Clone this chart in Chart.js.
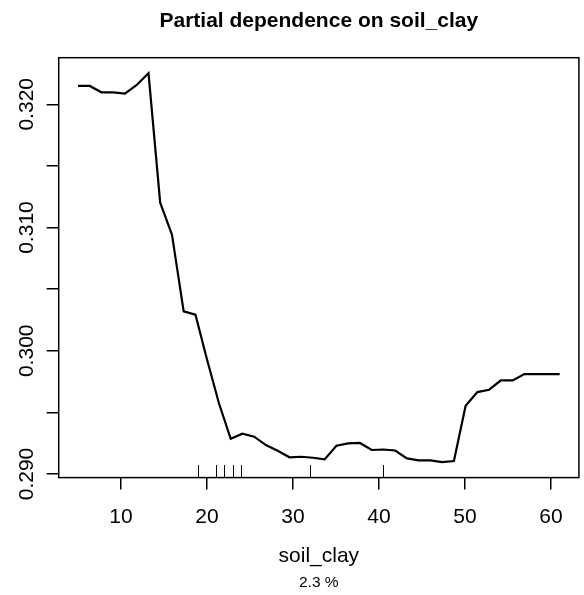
<!DOCTYPE html>
<html>
<head>
<meta charset="utf-8">
<script src="https://cdn.jsdelivr.net/npm/chart.js@4/dist/chart.umd.min.js"></script>
<style>
  html, body { margin: 0; padding: 0; background: #fff; }
  #wrap { width: 584px; height: 595px; position: relative; }
</style>
</head>
<body>
<div id="wrap"><canvas id="myChart"></canvas></div>
<script>
// grid of soil_clay values and the partial dependence at each
const soilClay = [5.00, 6.37, 7.73, 9.10, 10.46, 11.83, 13.20, 14.56, 15.93, 17.29,
    18.66, 20.02, 21.39, 22.76, 24.12, 25.49, 26.85, 28.22, 29.59, 30.95,
    32.32, 33.68, 35.05, 36.41, 37.78, 39.15, 40.51, 41.88, 43.24, 44.61,
    45.98, 47.34, 48.71, 50.07, 51.44, 52.80, 54.17, 55.54, 56.90, 58.27,
    59.63, 61.00]
const partialDep = [0.32149, 0.32149, 0.32097, 0.32097, 0.32086, 0.32157, 0.32252, 0.31202, 0.30942, 0.30320,
    0.30293, 0.29925, 0.29574, 0.29286, 0.29327, 0.29303, 0.29235, 0.29189, 0.29136, 0.29140,
    0.29132, 0.29119, 0.29230, 0.29249, 0.29252, 0.29195, 0.29199, 0.29191, 0.29127, 0.29111,
    0.29111, 0.29097, 0.29105, 0.29554, 0.29665, 0.29684, 0.29760, 0.29760, 0.29811, 0.29811,
    0.29811, 0.29811]
// deciles of the data (rug)
const rugValues = [19, 21, 22, 23, 24, 32, 40.5]

const xTicks = [10, 20, 30, 40, 50, 60]
const yTicks = [0.290, 0.295, 0.300, 0.305, 0.310, 0.315, 0.320]
const yTickLabels = ['0.290', '', '0.300', '', '0.310', '', '0.320']
const xRange = [2.76, 63.24]
const yRange = [0.28971, 0.32378]

const titleText = 'Partial dependence on soil_clay'
const xLabel = 'soil_clay'
const subText = '2.3 %'

const FONT = '"Liberation Sans", Arial, Helvetica, sans-serif'

const decorations = {
    id: 'decorations',
    afterDraw(chart) {
        const ctx = chart.ctx
        const a = chart.chartArea
        const xs = chart.scales.x
        const ys = chart.scales.y
        ctx.save()
        ctx.strokeStyle = '#000'
        ctx.fillStyle = '#000'

        // plot box
        ctx.lineWidth = 1.5
        ctx.strokeRect(a.left, a.top, a.right - a.left, a.bottom - a.top)

        // rug
        ctx.lineWidth = 1
        const rugLen = (a.bottom - a.top) * 0.03
        rugValues.forEach(v => {
            const px = Math.round(xs.getPixelForValue(v)) + 0.5
            ctx.beginPath()
            ctx.moveTo(px, a.bottom)
            ctx.lineTo(px, a.bottom - rugLen)
            ctx.stroke()
        })

        // title
        const cx = (a.left + a.right) / 2
        ctx.textAlign = 'center'
        ctx.textBaseline = 'alphabetic'
        ctx.font = 'bold 21px ' + FONT
        ctx.fillText(titleText, cx, 27)

        // x label and sub
        ctx.font = '21px ' + FONT
        ctx.fillText(xLabel, cx, 562)
        ctx.font = '15.5px ' + FONT
        ctx.fillText(subText, cx, 587)

        // y tick labels, rotated
        ctx.font = '21px ' + FONT
        yTicks.forEach((v, i) => {
            if (!yTickLabels[i]) return
            const py = ys.getPixelForValue(v)
            ctx.save()
            ctx.translate(33, py)
            ctx.rotate(-Math.PI / 2)
            ctx.fillText(yTickLabels[i], 0, 0)
            ctx.restore()
        })
        ctx.restore()
    }
}

const ctx = document.getElementById('myChart')
const myChart = new Chart(ctx, {
    type: 'line',
    data: {
        datasets: [{
            data: soilClay.map((x, i) => ({ x: x, y: partialDep[i] })),
            borderColor: '#000',
            borderWidth: 2.2,
            pointRadius: 0,
            tension: 0,
            fill: false
        }]
    },
    options: {
        responsive: true,
        maintainAspectRatio: false,
        animation: false,
        devicePixelRatio: 1,
        layout: { padding: { top: 57.7, right: 5.1, left: 0, bottom: 0 } },
        plugins: {
            legend: { display: false },
            tooltip: { enabled: false }
        },
        scales: {
            x: {
                type: 'linear',
                min: xRange[0],
                max: xRange[1],
                afterBuildTicks: (scale) => { scale.ticks = xTicks.map(v => ({ value: v })) },
                afterFit: (scale) => { scale.height = 595 - 477.6 },
                border: { display: false },
                grid: { drawOnChartArea: false, drawTicks: true, tickLength: 12, color: '#000', lineWidth: 1.5 },
                ticks: {
                    color: '#000',
                    font: { family: FONT, size: 21 },
                    padding: 15,
                    maxRotation: 0,
                    callback: (v) => String(v)
                }
            },
            y: {
                type: 'linear',
                min: yRange[0],
                max: yRange[1],
                afterBuildTicks: (scale) => { scale.ticks = yTicks.map(v => ({ value: v })) },
                afterFit: (scale) => { scale.width = 58.7 },
                border: { display: false },
                grid: { drawOnChartArea: false, drawTicks: true, tickLength: 12, color: '#000', lineWidth: 1.5 },
                ticks: { display: false }
            }
        }
    },
    plugins: [decorations]
})
</script>
</body>
</html>
